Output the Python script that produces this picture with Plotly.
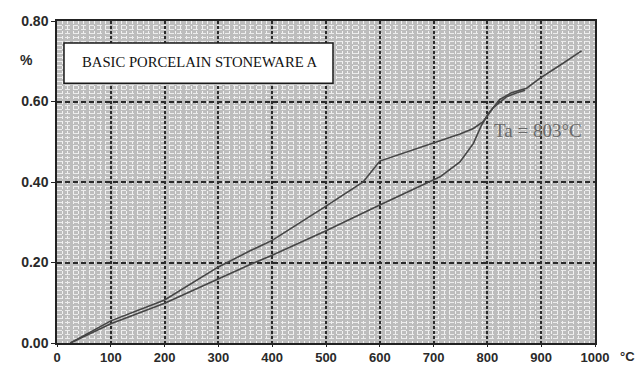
import plotly.graph_objects as go

# Heating curve (upper, with quartz kink near 573-600 °C)
temp_a = [25, 100, 200, 300, 359, 400, 500, 569, 600, 700, 749, 774, 792, 811, 836, 855, 870]
exp_a = [0.0, 0.055, 0.107, 0.189, 0.229, 0.255, 0.34, 0.40, 0.452, 0.497, 0.519, 0.533, 0.55, 0.585, 0.612, 0.622, 0.628]

# Second curve (lower, steep rise near Ta, continues to ~975 °C)
temp_b = [25, 100, 200, 300, 359, 400, 500, 600, 700, 712, 749, 774, 789, 802, 823, 845, 873, 898, 935, 975]
exp_b = [0.0, 0.048, 0.099, 0.16, 0.195, 0.218, 0.279, 0.343, 0.405, 0.413, 0.45, 0.496, 0.541, 0.570, 0.605, 0.622, 0.633, 0.658, 0.69, 0.726]

x_ticks = [0, 100, 200, 300, 400, 500, 600, 700, 800, 900, 1000]
y_ticks = [0.0, 0.2, 0.4, 0.6, 0.8]

title_text = "BASIC PORCELAIN STONEWARE A"
ta_text = "Ta = 803°C"

line_col = "#464646"

fig = go.Figure()
fig.add_trace(go.Scatter(x=temp_a, y=exp_a, mode="lines",
                         line=dict(color=line_col, width=1.6), showlegend=False))
fig.add_trace(go.Scatter(x=temp_b, y=exp_b, mode="lines",
                         line=dict(color=line_col, width=1.6), showlegend=False))

xfont = dict(family="Liberation Sans, Arial", size=13, color="#2a2a2a")
yfont = dict(family="Liberation Sans, Arial", size=14, color="#2a2a2a")

fig.update_layout(
    width=638, height=365,
    margin=dict(l=57, r=43, t=21, b=22),
    paper_bgcolor="white",
    plot_bgcolor="#bdbdbd",
    xaxis=dict(
        range=[0, 1000], tickvals=x_ticks, ticktext=[f"<b>{v}</b>" for v in x_ticks],
        showgrid=True, gridcolor="#2a2a2a", gridwidth=1.5, griddash="3px,2px",
        minor=dict(dtick=10, showgrid=True, gridcolor="#f2f2f2", gridwidth=1),
        showline=True, linecolor="#222", linewidth=1.5, mirror=True,
        ticks="outside", ticklen=2, tickcolor="#222",
        tickfont=xfont, zeroline=False, automargin=False,
    ),
    yaxis=dict(
        range=[0, 0.8], tickvals=y_ticks, ticktext=[f"<b>{v:.2f}</b>" for v in y_ticks],
        showgrid=True, gridcolor="#2a2a2a", gridwidth=1.5, griddash="5px,3px",
        minor=dict(dtick=0.01, showgrid=True, gridcolor="#ececec", gridwidth=1),
        showline=True, linecolor="#222", linewidth=1.5, mirror=True,
        ticks="outside", ticklen=4, tickcolor="#222",
        tickfont=yfont, zeroline=False, automargin=False,
    ),
)

# Title box
fig.add_shape(type="rect", xref="paper", yref="paper",
              x0=0.013, x1=0.513, y0=0.807, y1=0.932,
              fillcolor="white", line=dict(color="#1a1a1a", width=1.5), layer="above")
fig.add_annotation(
    xref="paper", yref="paper", x=0.0428, y=0.872, xanchor="left", yanchor="middle",
    text=title_text, showarrow=False,
    font=dict(family="Liberation Serif, Times New Roman", size=14.7, color="#111"),
)

# Ta annotation
fig.add_annotation(
    x=808, y=0.527, xanchor="left", yanchor="middle",
    text=ta_text, showarrow=False,
    font=dict(family="Liberation Serif, Times New Roman", size=19, color="#6a6a6a"),
)

# "%" unit label
fig.add_annotation(
    xref="paper", yref="paper", x=-0.057, y=0.88, xanchor="center", yanchor="middle",
    text="<b>%</b>", showarrow=False, font=yfont,
)

# "°C" unit label
fig.add_annotation(
    xref="paper", yref="paper", x=1.042, y=-0.012, xanchor="left", yanchor="top",
    text="<b>°C</b>", showarrow=False, font=xfont,
)

fig.write_html("out.html")
